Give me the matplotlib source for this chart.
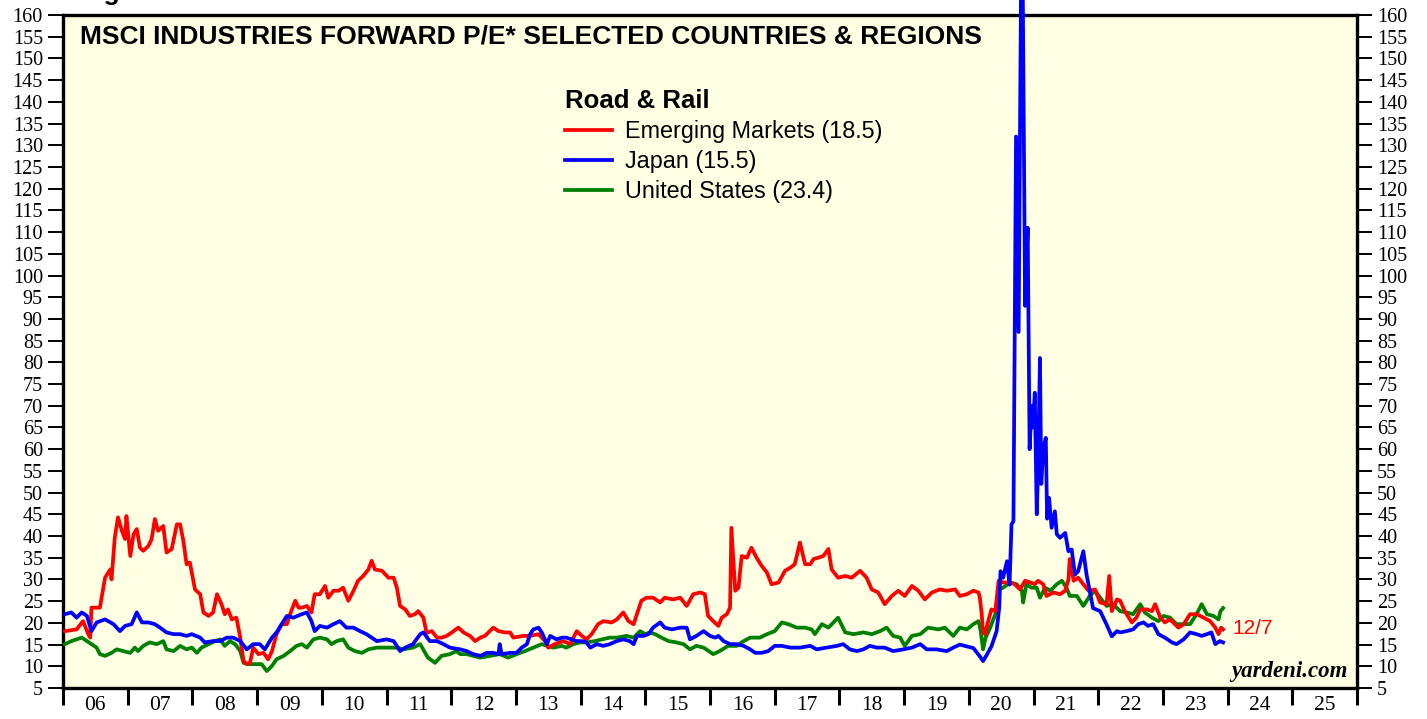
import numpy as np
import matplotlib.pyplot as plt

# Road & Rail forward P/E (decimal years)
em_t = [2006.03, 2006.21, 2006.31, 2006.39, 2006.42, 2006.44, 2006.57, 2006.65, 2006.73, 2006.75,
        2006.80, 2006.85, 2006.91, 2006.96, 2006.98, 2007.04, 2007.09, 2007.14, 2007.19, 2007.24,
        2007.32, 2007.37, 2007.42, 2007.47, 2007.55, 2007.60, 2007.68, 2007.76, 2007.81, 2007.86,
        2007.91, 2007.96, 2008.04, 2008.12, 2008.17, 2008.25, 2008.32, 2008.38, 2008.45, 2008.50,
        2008.55, 2008.61, 2008.68, 2008.74, 2008.79, 2008.84, 2008.89, 2008.94, 2009.02, 2009.10,
        2009.17, 2009.23, 2009.30, 2009.38, 2009.46, 2009.51, 2009.59, 2009.64, 2009.69, 2009.77,
        2009.84, 2009.89, 2009.97, 2010.05, 2010.10, 2010.18, 2010.26, 2010.33, 2010.41, 2010.49,
        2010.56, 2010.64, 2010.72, 2010.77, 2010.82, 2010.93, 2011.03, 2011.11, 2011.16, 2011.21,
        2011.29, 2011.36, 2011.44, 2011.49, 2011.57, 2011.62, 2011.70, 2011.78, 2011.85, 2011.93,
        2012.01, 2012.11, 2012.19, 2012.29, 2012.37,
        2012.45, 2012.52, 2012.65, 2012.73, 2012.83, 2012.91, 2012.96, 2013.11, 2013.22, 2013.35,
        2013.45, 2013.50, 2013.60, 2013.73, 2013.84, 2013.94, 2014.02, 2014.09, 2014.17, 2014.27,
        2014.35, 2014.48, 2014.56, 2014.66, 2014.74, 2014.82, 2014.87, 2014.94, 2015.02, 2015.12,
        2015.23, 2015.30, 2015.43, 2015.54, 2015.64, 2015.74, 2015.85, 2015.92, 2015.97, 2016.05,
        2016.13, 2016.18, 2016.26, 2016.31, 2016.33, 2016.39, 2016.44, 2016.49, 2016.57, 2016.64,
        2016.72, 2016.80, 2016.88, 2016.95, 2017.06, 2017.16, 2017.24, 2017.31, 2017.39, 2017.47,
        2017.55, 2017.60, 2017.67, 2017.75, 2017.83, 2017.88, 2017.98, 2018.09, 2018.19, 2018.32,
        2018.42, 2018.50, 2018.60, 2018.70, 2018.81, 2018.91, 2019.01, 2019.12, 2019.22, 2019.32,
        2019.43, 2019.55, 2019.66, 2019.79,
        2019.86, 2019.97, 2020.07, 2020.15, 2020.17, 2020.20, 2020.22, 2020.25, 2020.30, 2020.35,
        2020.41, 2020.46, 2020.53, 2020.64, 2020.71, 2020.79, 2020.87, 2020.95, 2021.02, 2021.07,
        2021.15, 2021.20, 2021.31, 2021.41, 2021.49, 2021.54, 2021.56, 2021.62, 2021.69, 2021.77,
        2021.85, 2021.95, 2022.03, 2022.13, 2022.17, 2022.21, 2022.29, 2022.34, 2022.41, 2022.52,
        2022.59, 2022.65, 2022.75, 2022.83, 2022.88, 2022.96, 2023.03, 2023.11, 2023.24, 2023.32,
        2023.42, 2023.52, 2023.63, 2023.73, 2023.81, 2023.86, 2023.90, 2023.93]
em_v = [18.1, 18.5, 20.4, 17.4, 16.6, 23.5, 23.5, 30.4, 32.3, 30.0,
        39.6, 44.3, 41.2, 39.3, 44.6, 35.4, 40.4, 41.6, 37.3, 36.6,
        37.7, 39.3, 43.9, 41.2, 42.3, 36.2, 37.0, 42.7, 42.7, 38.9,
        33.5, 33.9, 27.7, 26.6, 22.4, 21.6, 22.4, 26.6, 24.3, 22.0,
        23.1, 20.8, 21.2, 16.6, 11.2, 10.5, 10.8, 14.3, 12.8, 13.1,
        11.6, 13.5, 17.4, 19.7, 19.7, 22.0, 25.1, 23.5, 23.5, 23.9,
        22.4, 26.6, 26.6, 28.5, 25.8, 27.4, 27.4, 28.1, 25.1, 27.4,
        29.7, 30.8, 32.3, 34.3, 32.3, 32.0, 30.4, 30.4, 28.1, 23.9,
        23.1, 21.6, 22.0, 22.7, 21.2, 17.7, 18.1, 16.6, 16.6, 17.0,
        17.8, 18.9, 17.8, 17.0, 15.8,
        16.6, 17.0, 18.9, 18.1, 17.8, 17.8, 16.6, 17.0, 17.0, 17.4,
        15.8, 14.3, 15.1, 15.8, 15.1, 18.1, 17.0, 16.2, 17.4, 19.7,
        20.4, 20.1, 20.8, 22.4, 20.4, 19.7, 22.0, 25.1, 25.8, 25.8,
        24.7, 25.8, 25.4, 25.8, 23.9, 26.6, 27.0, 26.6, 21.6, 20.4,
        19.3, 21.2, 22.0, 23.5, 41.9, 27.4, 28.1, 35.4, 35.0, 37.3,
        35.0, 33.1, 31.6, 28.9, 29.3, 32.0, 32.7, 33.5, 38.5, 33.5,
        33.5, 34.7, 35.0, 35.4, 37.0, 32.3, 30.4, 30.8, 30.4, 32.0,
        30.4, 27.7, 27.0, 24.3, 26.2, 27.4, 26.2, 28.5, 27.4, 25.4,
        27.0, 27.7, 27.4, 27.7,
        26.2, 26.6, 27.4, 27.0, 25.8, 22.0, 17.8, 17.4, 20.4, 23.1,
        22.7, 29.7, 29.3, 29.3, 28.9, 27.7, 29.7, 29.3, 28.9, 29.7,
        28.9, 26.2, 27.0, 26.6, 27.4, 30.0, 34.7, 29.7, 30.4, 28.9,
        27.4, 27.7, 24.7, 24.3, 30.8, 22.7, 25.4, 25.1, 22.7, 20.1,
        21.2, 23.1, 23.1, 22.7, 24.3, 21.2, 20.1, 20.8, 18.9, 19.7,
        22.0, 22.0, 21.2, 20.4, 18.9, 17.4, 18.9, 18.5]

jp_t = [2006.03, 2006.13, 2006.21, 2006.29, 2006.37, 2006.44, 2006.52, 2006.65, 2006.78, 2006.88,
        2006.96, 2007.06, 2007.14, 2007.22, 2007.32, 2007.42, 2007.50, 2007.60, 2007.71, 2007.81,
        2007.91, 2007.99, 2008.12, 2008.19, 2008.32, 2008.43, 2008.53, 2008.63, 2008.74, 2008.84,
        2008.94, 2009.04, 2009.12, 2009.23, 2009.30, 2009.38, 2009.46, 2009.56, 2009.69, 2009.77,
        2009.84, 2009.89, 2009.97, 2010.08, 2010.18, 2010.28, 2010.38, 2010.49, 2010.59, 2010.69,
        2010.85, 2011.00, 2011.11, 2011.21, 2011.29, 2011.41, 2011.52, 2011.57, 2011.67, 2011.78,
        2011.88, 2011.98, 2012.14, 2012.24, 2012.34,
        2012.45, 2012.55, 2012.65, 2012.73, 2012.75, 2012.78, 2012.91, 2013.01, 2013.09, 2013.17,
        2013.22, 2013.27, 2013.35, 2013.40, 2013.48, 2013.53, 2013.63, 2013.71, 2013.78, 2013.86,
        2013.94, 2014.02, 2014.09, 2014.15, 2014.25, 2014.35, 2014.45, 2014.56, 2014.66, 2014.76,
        2014.82, 2014.87, 2014.97, 2015.05, 2015.12, 2015.23, 2015.30, 2015.41, 2015.54, 2015.64,
        2015.69, 2015.79, 2015.90, 2016.00, 2016.08, 2016.13, 2016.21, 2016.31, 2016.41, 2016.52,
        2016.62, 2016.70, 2016.80, 2016.90, 2017.00, 2017.11, 2017.24, 2017.39, 2017.55, 2017.65,
        2017.80, 2017.96, 2018.06, 2018.16, 2018.27, 2018.37, 2018.47, 2018.58, 2018.70, 2018.83,
        2018.99, 2019.12, 2019.25, 2019.35, 2019.50, 2019.66, 2019.76,
        2019.86, 2020.07, 2020.17, 2020.22, 2020.28, 2020.35, 2020.43, 2020.47, 2020.49, 2020.53,
        2020.59, 2020.63, 2020.66, 2020.69, 2020.73, 2020.77, 2020.82, 2020.87, 2020.91, 2020.94,
        2020.97, 2020.99, 2021.02, 2021.05, 2021.07, 2021.10, 2021.12, 2021.15, 2021.19, 2021.21,
        2021.24, 2021.28, 2021.33, 2021.36, 2021.41, 2021.49, 2021.54, 2021.59, 2021.64, 2021.69,
        2021.77, 2021.82, 2021.87, 2021.92, 2022.03, 2022.13, 2022.21, 2022.29, 2022.34, 2022.44,
        2022.54, 2022.62, 2022.70, 2022.77, 2022.85, 2022.93, 2023.03, 2023.14, 2023.21, 2023.32,
        2023.42, 2023.52, 2023.60, 2023.68, 2023.75, 2023.81, 2023.88, 2023.93]
jp_v = [22.0, 22.4, 21.2, 22.4, 21.6, 18.1, 20.1, 20.8, 19.7, 18.1,
        19.3, 19.7, 22.4, 20.1, 20.1, 19.7, 18.9, 17.8, 17.4, 17.4,
        17.0, 17.4, 16.6, 15.5, 15.8, 15.8, 16.6, 16.6, 15.8, 13.9,
        15.1, 15.1, 13.9, 16.6, 17.8, 19.7, 21.6, 21.2, 22.0, 22.4,
        20.4, 18.1, 19.3, 18.9, 19.7, 20.4, 18.9, 18.9, 18.1, 17.4,
        15.8, 16.2, 15.8, 13.5, 14.3, 15.1, 17.4, 17.8, 15.8, 15.8,
        15.1, 14.3, 13.9, 13.5, 12.8,
        12.4, 13.1, 13.1, 12.8, 15.1, 12.8, 13.1, 13.1, 14.3, 15.1,
        17.4, 18.5, 18.9, 17.8, 15.1, 17.0, 16.2, 16.6, 16.6, 16.2,
        15.8, 15.8, 15.5, 14.3, 15.1, 14.7, 15.1, 15.8, 16.2, 15.8,
        15.1, 17.0, 17.0, 17.4, 18.9, 20.1, 18.9, 18.5, 18.9, 18.9,
        16.2, 17.0, 18.1, 17.0, 16.6, 17.0, 15.8, 15.1, 15.1, 14.7,
        13.9, 13.1, 13.1, 13.5, 14.7, 14.7, 14.3, 14.3, 14.7, 13.9,
        14.3, 14.7, 15.1, 13.9, 13.5, 13.9, 14.7, 14.3, 14.3, 13.5,
        13.9, 14.3, 15.1, 13.9, 13.9, 13.5, 14.3,
        15.0, 14.2, 12.3, 11.2, 12.7, 14.6, 18.1, 23.5, 31.9, 30.4,
        34.2, 28.8, 42.7, 43.4, 132.0, 87.0, 195.0, 93.0, 111.0, 60.0,
        70.0, 65.0, 73.0, 45.0, 55.0, 81.0, 52.0, 60.0, 62.6, 44.0,
        48.8, 41.9, 45.7, 40.4, 39.6, 40.7, 36.5, 36.9, 31.1, 31.9,
        36.5, 31.1, 27.3, 23.4, 22.7, 19.6, 16.9, 18.1, 17.8, 18.1,
        18.5, 19.7, 20.1, 19.3, 19.7, 17.4, 16.6, 15.5, 15.1, 16.2,
        17.8, 17.4, 17.0, 17.4, 17.8, 15.1, 15.8, 15.5]

us_t = [2006.03, 2006.13, 2006.21, 2006.29, 2006.37, 2006.44, 2006.52, 2006.57, 2006.65, 2006.75,
        2006.83, 2006.93, 2007.04, 2007.11, 2007.16, 2007.24, 2007.34, 2007.45, 2007.55, 2007.60,
        2007.71, 2007.81, 2007.91, 2007.99, 2008.07, 2008.14, 2008.25, 2008.35, 2008.43, 2008.50,
        2008.58, 2008.66, 2008.74, 2008.79, 2008.86, 2008.97, 2009.07, 2009.15, 2009.23, 2009.30,
        2009.41, 2009.51, 2009.61, 2009.69, 2009.77, 2009.87, 2009.97, 2010.08, 2010.15, 2010.23,
        2010.33, 2010.41, 2010.51, 2010.62, 2010.72, 2010.85, 2011.00, 2011.16, 2011.26, 2011.41,
        2011.52, 2011.64, 2011.75, 2011.85, 2011.98, 2012.08, 2012.14, 2012.24, 2012.34,
        2012.45, 2012.60, 2012.75, 2012.88, 2013.01, 2013.14, 2013.27, 2013.40, 2013.48, 2013.58,
        2013.71, 2013.78, 2013.89, 2013.99, 2014.09, 2014.22, 2014.33, 2014.45, 2014.56, 2014.71,
        2014.82, 2014.92, 2015.00, 2015.07, 2015.15, 2015.25, 2015.36, 2015.48, 2015.59, 2015.69,
        2015.79, 2015.90, 2016.05, 2016.15, 2016.28, 2016.41, 2016.52, 2016.62, 2016.77, 2016.88,
        2017.00, 2017.11, 2017.21, 2017.34, 2017.47, 2017.57, 2017.62, 2017.73, 2017.83, 2017.98,
        2018.09, 2018.22, 2018.37, 2018.50, 2018.63, 2018.73, 2018.83, 2018.94, 2019.01, 2019.12,
        2019.25, 2019.37, 2019.53, 2019.63, 2019.76,
        2019.86, 2019.97, 2020.07, 2020.15, 2020.18, 2020.22, 2020.26, 2020.33, 2020.41, 2020.46,
        2020.53, 2020.64, 2020.74, 2020.82, 2020.84, 2020.89, 2020.97, 2021.05, 2021.10, 2021.18,
        2021.26, 2021.36, 2021.44, 2021.51, 2021.56, 2021.67, 2021.77, 2021.87, 2021.95, 2022.03,
        2022.13, 2022.23, 2022.34, 2022.44, 2022.54, 2022.65, 2022.72, 2022.83, 2022.93, 2023.01,
        2023.11, 2023.21, 2023.32, 2023.42, 2023.52, 2023.60, 2023.68, 2023.78, 2023.86, 2023.89,
        2023.93]
us_v = [15.1, 15.8, 16.2, 16.6, 15.8, 15.1, 14.3, 12.8, 12.4, 13.1,
        13.9, 13.5, 13.1, 14.3, 13.5, 14.7, 15.5, 15.1, 15.8, 13.9,
        13.5, 14.7, 13.9, 14.3, 13.1, 14.3, 15.1, 15.8, 16.2, 14.7,
        15.8, 15.1, 13.5, 10.8, 10.5, 10.5, 10.5, 8.9, 10.1, 11.6,
        12.4, 13.5, 14.7, 15.1, 14.3, 16.2, 16.6, 16.2, 15.1, 15.8,
        16.2, 14.3, 13.5, 13.1, 13.9, 14.3, 14.3, 14.3, 13.9, 14.3,
        15.1, 12.0, 10.8, 12.4, 12.8, 13.5, 12.8, 12.8, 12.4,
        12.0, 12.4, 12.8, 12.0, 12.8, 13.5, 14.3, 15.1, 14.7, 14.3,
        14.7, 14.3, 15.1, 15.5, 15.5, 15.8, 16.2, 16.6, 16.6, 17.0,
        16.6, 18.1, 17.4, 17.8, 17.4, 16.6, 15.8, 15.5, 15.1, 13.9,
        14.7, 14.3, 12.8, 13.5, 14.7, 14.7, 15.8, 16.6, 16.6, 17.4,
        18.1, 20.1, 19.7, 18.9, 18.9, 18.5, 17.4, 19.7, 18.9, 21.2,
        17.8, 17.4, 17.8, 17.4, 18.1, 18.9, 17.0, 16.6, 14.7, 17.0,
        17.4, 18.9, 18.5, 18.9, 17.0,
        18.9, 18.5, 19.7, 20.4, 18.5, 13.9, 16.6, 18.9, 22.0, 27.7,
        28.1, 29.3, 28.9, 27.4, 24.7, 28.9, 28.1, 28.1, 25.8, 28.1,
        27.4, 28.9, 29.7, 28.1, 26.2, 26.2, 23.9, 26.2, 27.4, 25.8,
        23.9, 24.3, 22.7, 22.4, 22.0, 24.3, 22.4, 21.2, 20.4, 21.6,
        21.2, 19.7, 19.7, 19.7, 22.0, 24.3, 22.0, 21.6, 20.8, 22.7,
        23.4]

years = np.arange(2006, 2027)
year_labels = ['%02d' % (y % 100) for y in range(2006, 2026)]
y_ticks = list(range(5, 161, 5))

SERIF = ['Liberation Serif', 'DejaVu Serif']
SANS = ['Liberation Sans', 'DejaVu Sans']

fig = plt.figure(figsize=(14.27, 7.19), dpi=100)
ax = fig.add_axes([63 / 1427, 31 / 719, 1294 / 1427, 673 / 719])
ax.set_facecolor('#ffffe4')

ax.plot(us_t, us_v, color='#008000', lw=2.7, clip_on=False, label='United States (23.4)', zorder=3)
ax.plot(em_t, em_v, color='#ff0000', lw=2.7, clip_on=False, label='Emerging Markets (18.5)', zorder=4)
ax.plot(jp_t, jp_v, color='#0000ff', lw=2.7, clip_on=False, label='Japan (15.5)', zorder=5)

ax.set_xlim(2006, 2026)
ax.set_ylim(5, 160)

for s in ['left', 'right', 'bottom', 'top']:
    ax.spines[s].set_linewidth(2.4)

ax.set_yticks(y_ticks)
ax.set_yticklabels([str(v) for v in y_ticks], fontfamily=SERIF)
ax.tick_params(axis='y', direction='out', length=11, width=1.4, labelsize=14.5, pad=3.5,
               left=True, right=True, labelleft=True, labelright=True)

ax.set_xticks(years)
ax.set_xticklabels([])
ax.set_xticks(years[:-1] + 0.5, minor=True)
ax.set_xticklabels(year_labels, minor=True, fontfamily=SERIF)
ax.tick_params(axis='x', which='major', direction='out', length=12, width=2.2)
ax.tick_params(axis='x', which='minor', length=0, labelsize=15.5, pad=6)

fig.text(80 / 1427, 1.0, 'Figure', fontsize=19, fontweight='bold', family=SANS, va='baseline')
fig.text(80 / 1427, 1 - 36 / 719, 'MSCI INDUSTRIES FORWARD P/E* SELECTED COUNTRIES & REGIONS',
         fontsize=19, fontweight='bold', family=SANS, va='center')

handles, labels = ax.get_legend_handles_labels()
order = [1, 2, 0]
leg = ax.legend([handles[i] for i in order], [labels[i] for i in order],
                loc='upper left', bbox_to_anchor=(565 / 1427, 1 - 89 / 719),
                bbox_transform=fig.transFigure, frameon=False, title='Road & Rail',
                alignment='left', borderpad=0, borderaxespad=0, handlelength=2.0,
                handletextpad=0.56, labelspacing=0.3,
                prop={'family': SANS, 'size': 16.8},
                title_fontproperties={'family': SANS, 'size': 18.5, 'weight': 'bold'})

fig.text(1232 / 1427, 1 - 628 / 719, '12/7', color='#ff0000', fontsize=15, family=SANS, va='center')
fig.text(1348 / 1427, 1 - 672 / 719, 'yardeni.com', fontsize=16.5, family=SERIF,
         fontweight='bold', fontstyle='italic', ha='right', va='center')

fig.savefig('out.png', dpi=100)
